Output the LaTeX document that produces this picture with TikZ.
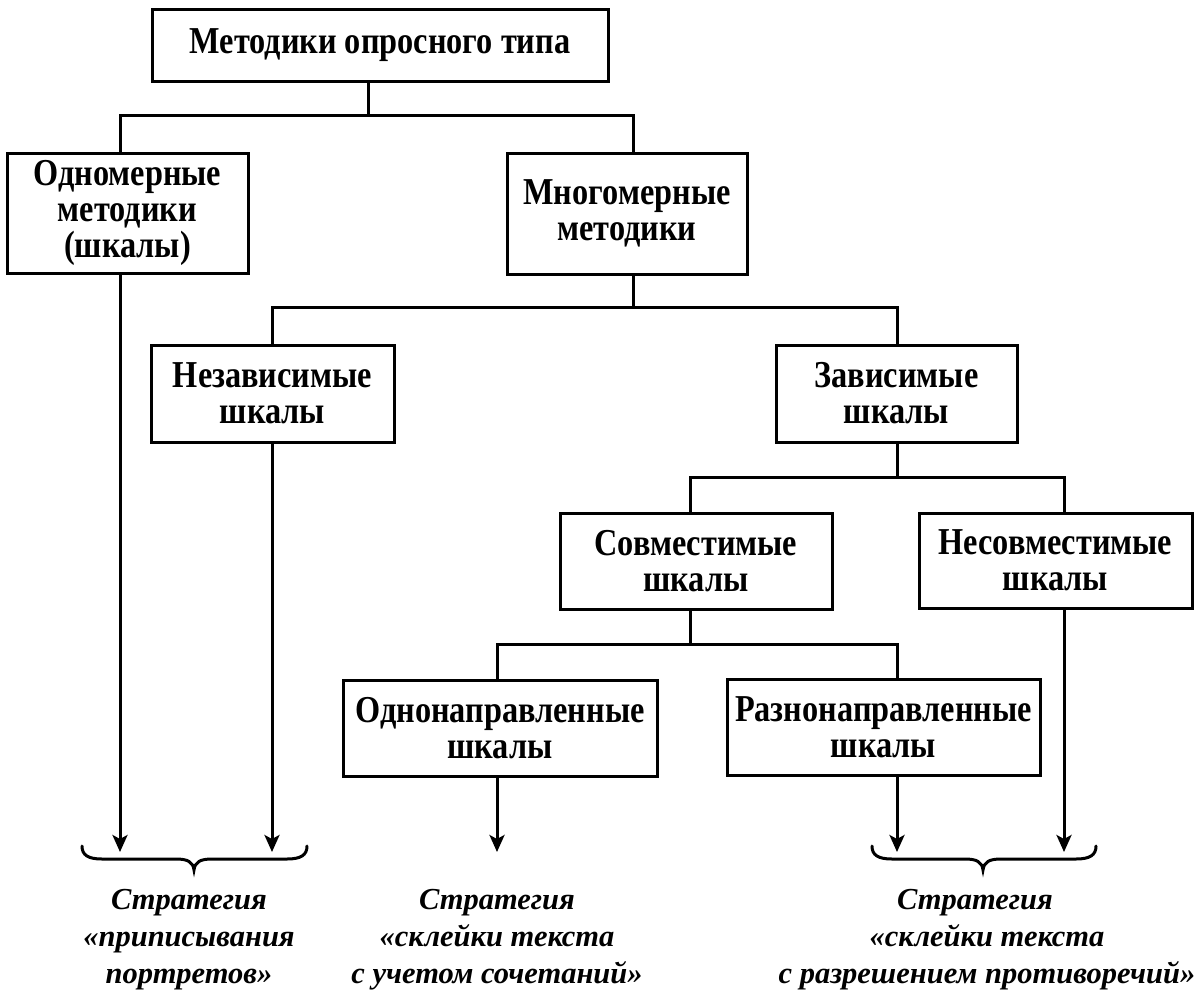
\documentclass[tikz,border=0pt]{standalone}
\usepackage{fontspec}
\setmainfont{Liberation Serif}
\newfontfamily\boxfont[FakeStretch=0.85]{Liberation Serif}
\usetikzlibrary{arrows.meta}
\begin{document}
\begin{tikzpicture}[x=1pt,y=-1pt,
  box/.style={draw,line width=3pt,inner sep=0pt,align=center,
    font=\boxfont\fontsize{38}{36}\selectfont\bfseries},
  conn/.style={line width=3pt},
  arr/.style={line width=3pt,-{Stealth[length=17pt,width=15pt,inset=4pt]}},
  brc/.style={line width=3pt,line cap=round},
  lab/.style={align=center,inner sep=0pt,
    font=\fontsize{30.5}{37}\selectfont\bfseries\itshape}]
\useasboundingbox (0,0) rectangle (1196,994);
\fill[white] (0,0) rectangle (1196,994);

\node[box,minimum width=456pt,minimum height=72pt] (top) at (380,45) {Методики опросного типа};
\node[box,minimum width=241pt,minimum height=120pt] (odn) at (127.5,213) {Одномерные\\методики\\(шкалы)};
\node[box,minimum width=240pt,minimum height=121pt] (mnog) at (627,213.5) {Многомерные\\методики};
\node[box,minimum width=243pt,minimum height=97pt] (nezav) at (272.5,393.5) {Независимые\\шкалы};
\node[box,minimum width=241pt,minimum height=97pt] (zav) at (896.5,393.5) {Зависимые\\шкалы};
\node[box,minimum width=272pt,minimum height=96pt] (sovm) at (696,561) {Совместимые\\шкалы};
\node[box,minimum width=273pt,minimum height=95pt] (nesovm) at (1055.5,560.5) {Несовместимые\\шкалы};
\node[box,minimum width=314pt,minimum height=96pt] (odnon) at (500,728) {Однонаправленные\\шкалы};
\node[box,minimum width=313pt,minimum height=96pt] (razn) at (883.5,727) {Разнонаправленные\\шкалы};

% tree connectors
\coordinate (b1) at (368,115);
\draw[conn] (top.south -| b1) -- (b1);
\draw[conn] ([xshift=-7.5]odn.north) |- (b1) -| ([xshift=6]mnog.north);

\coordinate (b2) at (633,307);
\draw[conn] (mnog.south -| b2) -- (b2);
\draw[conn] ([xshift=-0.5]nezav.north) |- (b2) -| ([xshift=0.5]zav.north);

\coordinate (b3) at (897,477);
\draw[conn] (zav.south -| b3) -- (b3);
\draw[conn] ([xshift=-6]sovm.north) |- (b3) -| ([xshift=8.5]nesovm.north);

\coordinate (b4) at (690,644);
\draw[conn] (sovm.south -| b4) -- (b4);
\draw[conn] ([xshift=-3]odnon.north) |- (b4) -| ([xshift=13.5]razn.north);

% arrows
\coordinate (e1) at (120,852);
\coordinate (e2) at (272,852);
\coordinate (e3) at (497,852);
\coordinate (e4) at (897,852);
\coordinate (e5) at (1064,852);
\draw[arr] (odn.south -| e1) -- (e1);
\draw[arr] (nezav.south -| e2) -- (e2);
\draw[arr] (odnon.south -| e3) -- (e3);
\draw[arr] (razn.south -| e4) -- (e4);
\draw[arr] (nesovm.south -| e5) -- (e5);

% braces
\draw[brc] (82,846) .. controls (82,855) and (88,859) .. (102,859) -- (176,859)
  .. controls (188,859) and (193,862) .. (194,870)
  .. controls (195,862) and (200,859) .. (212,859) -- (287,859)
  .. controls (301,859) and (307,855) .. (307,846);
\draw[brc] (872,846) .. controls (872,855) and (878,859) .. (892,859) -- (965,859)
  .. controls (977,859) and (982,862) .. (983,870)
  .. controls (984,862) and (989,859) .. (1001,859) -- (1076,859)
  .. controls (1090,859) and (1096,855) .. (1096,846);

% strategy labels
\node[lab] (s1) at (189,940) {Стратегия\\«приписывания\\портретов»};
\node[lab] (s2) at (497,940) {Стратегия\\«склейки текста\\с учетом сочетаний»};
\node[lab] (s3) at (987,940) {Стратегия\hspace*{24pt}\\«склейки текста\hspace*{46pt}\\с разрешением противоречий»};
\end{tikzpicture}
\end{document}
